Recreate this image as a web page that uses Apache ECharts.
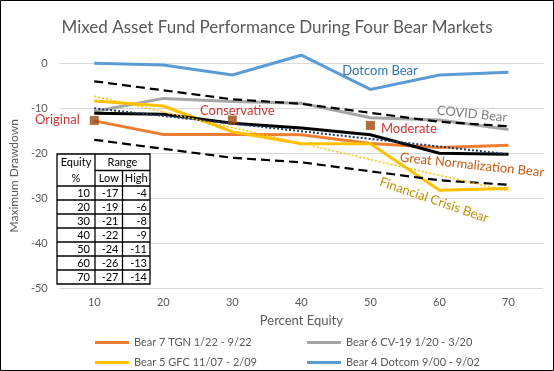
<!DOCTYPE html>
<html><head><meta charset="utf-8">
<script src="https://cdn.jsdelivr.net/npm/echarts@6/dist/echarts.min.js"></script>
<style>html,body{margin:0;padding:0;background:#fff}#c{width:554px;height:371px}</style>
</head><body><div id="c"></div>
<script>
// ---- data ----
const equity = ['10','20','30','40','50','60','70'];
const bearTGN = [-12.8, -15.8, -15.8, -15.9, -17.8, -18.7, -18.2];
const bearCV19 = [-10.7, -7.8, -8.5, -8.9, -12.1, -12.6, -14.7];
const bearGFC = [-8.4, -9.5, -15.2, -17.9, -17.9, -28.2, -27.8];
const bearDotcom = [0, -0.4, -2.6, 1.8, -5.8, -2.6, -2.0];
const fundAvg = [-11.1, -11.3, -13.3, -14.4, -15.9, -20.0, -20.2];
const fundTrend = [-10.0, -11.7, -13.4, -15.1, -16.8, -18.5, -20.2];
const gfcTrend = [-7.3, -10.8, -14.3, -17.8, -21.4, -24.9, -28.4];
const rangeHigh = [-4, -6, -8, -9, -11, -13, -14];
const rangeLow = [-17, -19, -21, -22, -24, -26, -27];
const portfolios = [['10', -12.7, 'Original'], ['30', -12.6, 'Conservative'], ['50', -13.8, 'Moderate']];
const yTicks = {min: -50, max: 0, interval: 10};

const FONT = 'Lato';
const names = ['Bear 7 TGN 1/22 - 9/22', 'Bear 6 CV-19 1/20 - 3/20', 'Bear 5 GFC 11/07 - 2/09', 'Bear 4 Dotcom 9/00 - 9/02'];

function line(name, data, color, width, type, z) {
  return {name, type: 'line', data, symbol: 'none', color, clip: false, z: z || 2,
    lineStyle: {color, width, type: type || 'solid', cap: 'butt', join: 'miter'},
    emphasis: {disabled: true}, silent: true};
}

// ---- table graphic ----
const tbl = {x0: 57, x1: 95, x2: 122.5, x3: 150, y0: 154, yMid: 170.5, yRow: 186, rowH: 14};
const tg = [];
const tblBottom = tbl.yRow + equity.length * tbl.rowH;
tg.push({type: 'rect', shape: {x: tbl.x0, y: tbl.y0, width: tbl.x3 - tbl.x0, height: tblBottom - tbl.y0},
  style: {fill: '#fff', stroke: '#000', lineWidth: 1.3}, z: 50});
function L(x1, y1, x2, y2) { tg.push({type: 'line', shape: {x1, y1, x2, y2}, style: {stroke: '#000', lineWidth: 1.3}, z: 51}); }
L(tbl.x1, tbl.y0, tbl.x1, tblBottom);
L(tbl.x1, tbl.yMid, tbl.x3, tbl.yMid);
L(tbl.x2, tbl.yMid, tbl.x2, tblBottom);
for (let i = 0; i < equity.length; i++) L(tbl.x0, tbl.yRow + i * tbl.rowH, tbl.x3, tbl.yRow + i * tbl.rowH);
function T(text, x, y, align) {
  tg.push({type: 'text', x, y, z: 52, style: {text, fill: '#000', font: '11px ' + FONT, textAlign: align || 'center', textVerticalAlign: 'middle'}});
}
T('Equity', (tbl.x0 + tbl.x1) / 2, 162.5);
T('%', (tbl.x0 + tbl.x1) / 2, 178.5);
T('Range', (tbl.x1 + tbl.x3) / 2, 162.5);
T('Low', (tbl.x1 + tbl.x2) / 2, 178.5);
T('High', (tbl.x2 + tbl.x3) / 2, 178.5);
for (let i = 0; i < equity.length; i++) {
  const cy = tbl.yRow + i * tbl.rowH + tbl.rowH / 2;
  T(equity[i], tbl.x1 - 5, cy, 'right');
  T(String(rangeLow[i]), tbl.x2 - 4, cy, 'right');
  T(String(rangeHigh[i]), tbl.x3 - 3, cy, 'right');
}

// ---- annotations ----
function A(text, x, y, color, deg) {
  return {type: 'text', x, y, rotation: -(deg || 0) * Math.PI / 180, z: 60,
    style: {text, fill: color, font: '13px ' + FONT, textAlign: 'center', textVerticalAlign: 'middle'}};
}
const ann = [
  A('Dotcom Bear', 380, 70.5, '#2E75B6', 0),
  A('COVID Bear', 472, 114, '#808080', 6),
  A('Great Normalization Bear', 472, 165, '#C55A11', 6),
  A('Financial Crisis Bear', 434, 200, '#BF9000', 19)
];

const chart = echarts.init(document.getElementById('c'), null, {renderer: 'canvas'});
const legendBase = (name, left, top) => ({data: [name], left, top, padding: 0, icon: 'rect', itemWidth: 34, itemHeight: 3,
  selectedMode: false, textStyle: {color: '#595959', fontSize: 11, fontFamily: FONT}});

chart.setOption({
  animation: false,
  textStyle: {fontFamily: FONT},
  title: {text: 'Mixed Asset Fund Performance During Four Bear Markets', left: 'center', top: 14,
    textStyle: {color: '#595959', fontSize: 17, fontWeight: 'normal', fontFamily: FONT}},
  grid: {left: 57.85, right: 11, top: 63.3, bottom: 82.7, containLabel: false},
  legend: [
    legendBase(names[0], 95, 337),
    legendBase(names[1], 307, 337),
    legendBase(names[2], 95, 357),
    legendBase(names[3], 307, 357)
  ],
  xAxis: {type: 'category', data: equity, boundaryGap: true,
    name: 'Percent Equity', nameLocation: 'middle', nameGap: 26,
    nameTextStyle: {color: '#595959', fontSize: 13, fontFamily: FONT},
    axisLine: {show: true, lineStyle: {color: '#D9D9D9'}}, axisTick: {show: false},
    axisLabel: {color: '#595959', fontSize: 11, margin: 9, fontFamily: FONT}},
  yAxis: {type: 'value', min: yTicks.min, max: yTicks.max, interval: yTicks.interval,
    name: 'Maximum Drawdown', nameLocation: 'middle', nameGap: 26,
    nameTextStyle: {color: '#595959', fontSize: 12, fontFamily: FONT},
    axisLine: {show: false}, axisTick: {show: false},
    splitLine: {lineStyle: {color: '#D9D9D9'}},
    axisLabel: {color: '#595959', fontSize: 11, margin: 12, fontFamily: FONT}},
  series: [
    line('High', rangeHigh, '#000', 2.2, [9, 5], 3),
    line('Low', rangeLow, '#000', 2.2, [9, 5], 3),
    line(names[1], bearCV19, '#A5A5A5', 3),
    line(names[3], bearDotcom, '#5B9BD5', 3),
    line(names[0], bearTGN, '#ED7D31', 3),
    line(names[2], bearGFC, '#FFC000', 3),
    line('Fund average', fundAvg, '#000', 3, 'solid', 4),
    line('Fund trend', fundTrend, '#203864', 2, [2, 2], 5),
    line('GFC trend', gfcTrend, '#FFC000', 1.5, [2, 2], 5),
    {name: 'Portfolios', type: 'scatter', symbol: 'rect', symbolSize: 9, z: 6, silent: true,
      itemStyle: {color: '#9E480E'},
      data: portfolios.map((p, i) => ({value: [p[0], p[1]], label: {show: true, formatter: p[2], color: '#C00000', fontSize: 13, fontFamily: FONT,
        position: ['left', 'top', 'right'][i], distance: [10, 0, 6][i], offset: [[0, -1], [5, 2], [0, 3]][i]}}))}
  ],
  graphic: [
    {type: 'rect', shape: {x: 0.5, y: 0.5, width: 553, height: 370}, style: {fill: 'none', stroke: '#000', lineWidth: 1}, z: 100},
    ...tg, ...ann
  ]
});
</script></body></html>
